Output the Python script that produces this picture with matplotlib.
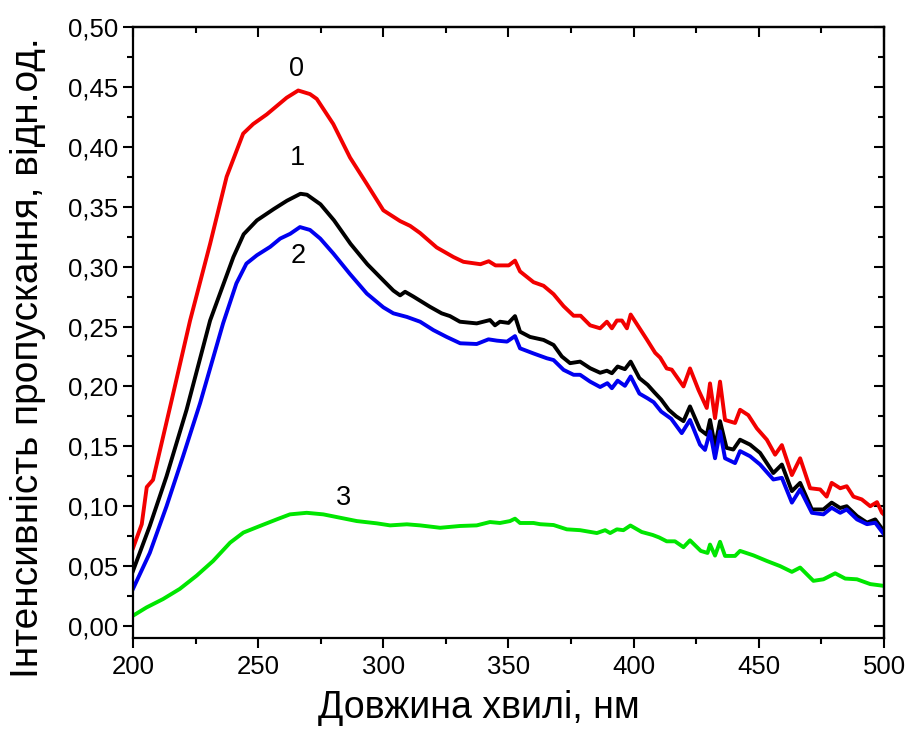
import matplotlib
matplotlib.use("Agg")
import matplotlib.pyplot as plt
from matplotlib.ticker import MultipleLocator, FuncFormatter

plt.rcParams['font.family'] = ['Liberation Sans', 'DejaVu Sans']

# ---- data ----
wl_0 = [200, 203.5, 205.5, 208, 215.5, 222.8, 230.8, 237.4, 244, 248, 253.4, 257.4, 261.4, 266,
        270.7, 273.4, 280, 286.7, 293.4, 300, 306.7, 310.7, 314.7, 321.3, 328, 332, 338.8, 342.1,
        344.8, 350.1, 352.6, 354.6, 360, 364, 368, 372, 376, 378.8, 382.6, 386.6, 389.3, 391.3,
        393.3, 395.3, 397.3, 398.8, 401.9, 405.3, 408.6, 410.6, 413.2, 415.2, 419.9, 422.5, 425.9,
        429.2, 430.5, 432.5, 434.5, 436.5, 440.5, 442.5, 445.8, 449.2, 453.2, 456.5, 459.2, 463.2,
        466.5, 470.5, 474.5, 477.1, 479.1, 482.5, 485.1, 487.8, 491.1, 494.5, 497.2, 499.2, 500]
int_0 = [0.065, 0.085, 0.116, 0.122, 0.189, 0.255, 0.319, 0.375, 0.411, 0.419, 0.427, 0.434, 0.441,
         0.447, 0.444, 0.440, 0.419, 0.391, 0.369, 0.347, 0.338, 0.334, 0.328, 0.316, 0.308, 0.304,
         0.302, 0.3045, 0.301, 0.301, 0.305, 0.296, 0.287, 0.284, 0.277, 0.267, 0.259, 0.259, 0.251,
         0.2485, 0.254, 0.2485, 0.255, 0.255, 0.2485, 0.260, 0.250, 0.239, 0.228, 0.224, 0.215, 0.214,
         0.200, 0.215, 0.197, 0.182, 0.2025, 0.1735, 0.204, 0.172, 0.1695, 0.1805, 0.176, 0.165,
         0.1555, 0.143, 0.151, 0.126, 0.140, 0.115, 0.114, 0.108, 0.1195, 0.115, 0.1167, 0.108,
         0.1057, 0.100, 0.1034, 0.0945, 0.093]

wl_1 = [200, 206.7, 213.4, 221.4, 230.8, 240.1, 244.2, 249.5, 256.2, 261.5, 266.9, 269.5, 274.9,
        280.3, 286.9, 293.6, 300.2, 304, 306.7, 308.7, 312, 318.6, 323.3, 326.6, 330.6, 337.3, 342.6,
        344.6, 346.6, 350, 352.6, 354.6, 358.6, 364, 368, 371.3, 374.6, 378.6, 382.6, 386.6, 389.3,
        391.3, 393.6, 396.5, 398.8, 402.3, 405.6, 408.3, 411, 414, 417, 419.9, 422.5, 426.5, 429.2,
        430.5, 432.5, 434.5, 437.1, 439.8, 442.5, 446.5, 450.5, 455.8, 459.2, 463.2, 466.5, 471.2,
        475.8, 479.1, 482.5, 485.1, 489.2, 493.2, 496.5, 500]
int_1 = [0.046, 0.0835, 0.125, 0.1805, 0.255, 0.308, 0.327, 0.3386, 0.348, 0.355, 0.3608, 0.360,
         0.352, 0.3386, 0.319, 0.302, 0.288, 0.280, 0.276, 0.279, 0.275, 0.2665, 0.261, 0.2587, 0.254,
         0.2526, 0.2554, 0.251, 0.254, 0.253, 0.2587, 0.2457, 0.2413, 0.2388, 0.2346, 0.225, 0.2194,
         0.2207, 0.2152, 0.2114, 0.2131, 0.211, 0.2166, 0.2144, 0.2207, 0.2069, 0.2013, 0.195, 0.189,
         0.1805, 0.175, 0.171, 0.1833, 0.164, 0.1597, 0.172, 0.150, 0.171, 0.1487, 0.1473, 0.1555,
         0.1514, 0.1445, 0.1277, 0.1348, 0.1126, 0.1195, 0.0973, 0.0973, 0.103, 0.0985, 0.100, 0.0918,
         0.0863, 0.089, 0.079]

wl_2 = [200, 206.7, 213.4, 220, 226.8, 236, 241.3, 245.3, 249.5, 254.8, 258.8, 262.8, 266.7, 270.7,
        274.8, 280, 286.6, 293.4, 300, 304, 309.4, 314.7, 320, 325.3, 330.7, 337.3, 342, 345.4,
        349.4, 352.6, 354.6, 360, 365.3, 368, 372, 376, 378.6, 382.6, 386.6, 389.5, 391.3, 393.6,
        396.5, 398.8, 402.3, 405.6, 408, 411, 415, 419.2, 422.5, 426.5, 428.5, 430.5, 432.5, 434.5,
        436.5, 440.5, 442.5, 446.5, 450.5, 455.8, 459.2, 463.2, 466.5, 471.2, 475.8, 479.1, 482.5,
        485.1, 489.2, 493.2, 496.5, 500]
int_2 = [0.031, 0.061, 0.100, 0.1417, 0.186, 0.2527, 0.286, 0.3025, 0.3095, 0.3165, 0.3234, 0.3274,
         0.333, 0.3306, 0.3234, 0.311, 0.294, 0.2775, 0.266, 0.261, 0.258, 0.254, 0.247, 0.2413,
         0.236, 0.2354, 0.2393, 0.2382, 0.2374, 0.242, 0.2318, 0.2275, 0.2235, 0.222, 0.2138, 0.2097,
         0.2097, 0.204, 0.1995, 0.2027, 0.1985, 0.2048, 0.2005, 0.2083, 0.194, 0.190, 0.1868, 0.179,
         0.173, 0.161, 0.172, 0.1514, 0.147, 0.1625, 0.140, 0.1625, 0.140, 0.136, 0.146, 0.1417,
         0.1348, 0.1223, 0.1237, 0.103, 0.114, 0.0945, 0.0932, 0.0987, 0.0945, 0.0973, 0.089, 0.085,
         0.0862, 0.0765]

wl_3 = [200, 205.4, 212, 218.7, 225.4, 232, 238.8, 244.1, 250.7, 257.4, 262.7, 269.4, 276, 282.7,
        289.4, 297.4, 302.7, 309.4, 314.7, 322.7, 330.6, 337.3, 342.6, 346.6, 350.6, 352.6, 354.6,
        360, 362.6, 368, 373.3, 378.6, 385.3, 388.6, 390.6, 393.3, 395.9, 398.7, 403.2, 407.6, 410.2,
        413.2, 416.5, 419.9, 422.5, 426.8, 429.5, 430.5, 432.5, 434.5, 436.5, 440.5, 442.5, 447.8,
        453.2, 458.5, 463.2, 466.5, 471.8, 475.8, 480.5, 484.5, 489.2, 494.5, 500]
int_3 = [0.0086, 0.0155, 0.0225, 0.031, 0.042, 0.0543, 0.0696, 0.078, 0.0835, 0.089, 0.0932, 0.0945,
         0.0932, 0.0904, 0.0876, 0.0857, 0.084, 0.0849, 0.084, 0.082, 0.0835, 0.084, 0.0868, 0.086,
         0.0876, 0.0896, 0.086, 0.086, 0.085, 0.0843, 0.0807, 0.080, 0.0776, 0.080, 0.0776, 0.0807,
         0.080, 0.0839, 0.0785, 0.076, 0.0739, 0.0707, 0.0707, 0.0658, 0.0715, 0.0627, 0.061, 0.068,
         0.0588, 0.0703, 0.0585, 0.0585, 0.0627, 0.059, 0.0543, 0.050, 0.0452, 0.0488, 0.0377, 0.039,
         0.044, 0.0396, 0.039, 0.035, 0.0335]

curve_names = ["0", "1", "2", "3"]
label_x = [265.5, 265.9, 265.9, 284.3]
label_y = [0.465, 0.391, 0.309, 0.107]

x_label = "Довжина хвилі, нм"
y_label = "Інтенсивність пропускання, відн.од."

# ---- figure ----
W, H = 909, 737
fig = plt.figure(figsize=(W / 100, H / 100), dpi=100)
ax = fig.add_axes([133 / W, 1 - 638 / H, (884 - 133) / W, (638 - 27) / H])

series = [(wl_0, int_0, "#f20000"), (wl_1, int_1, "#000000"),
          (wl_2, int_2, "#0000f0"), (wl_3, int_3, "#00e600")]
for xs, ys, c in series:
    ax.plot(xs, ys, color=c, lw=2.8, solid_joinstyle='round')

for name, lx, ly in zip(curve_names, label_x, label_y):
    ax.text(lx, ly, name, fontsize=19.5, ha='center', va='center')

ax.set_xlim(200, 500)
ax.set_ylim(-0.01, 0.50)
ax.xaxis.set_major_locator(MultipleLocator(50))
ax.xaxis.set_minor_locator(MultipleLocator(25))
ax.yaxis.set_major_locator(MultipleLocator(0.05))
ax.yaxis.set_minor_locator(MultipleLocator(0.025))
ax.yaxis.set_major_formatter(FuncFormatter(lambda v, p: f"{v:.2f}".replace('.', ',')))

for s in ax.spines.values():
    s.set_linewidth(1.6)
ax.tick_params(which='both', direction='out', width=1.5, labelsize=18.5, top=False, right=False)
ax.tick_params(which='major', length=7)
ax.tick_params(which='minor', length=4)
ax.tick_params(axis='x', pad=5)

secx = ax.secondary_xaxis('top')
secx.xaxis.set_major_locator(MultipleLocator(50))
secx.xaxis.set_minor_locator(MultipleLocator(25))
secx.tick_params(which='both', direction='in', width=1.5, labeltop=False)
secx.tick_params(which='major', length=7)
secx.tick_params(which='minor', length=4)
secx.spines['top'].set_linewidth(1.6)

secy = ax.secondary_yaxis('right')
secy.yaxis.set_major_locator(MultipleLocator(0.05))
secy.yaxis.set_minor_locator(MultipleLocator(0.025))
secy.tick_params(which='both', direction='in', width=1.5, labelright=False)
secy.tick_params(which='major', length=7)
secy.tick_params(which='minor', length=4)
secy.spines['right'].set_linewidth(1.6)

fig.text(479 / W, 1 - 708 / H, x_label, fontsize=27, ha='center', va='center')
fig.text(28 / W, 1 - 358 / H, y_label, fontsize=28, ha='center', va='center', rotation=90)

fig.savefig("out.png", dpi=100)
